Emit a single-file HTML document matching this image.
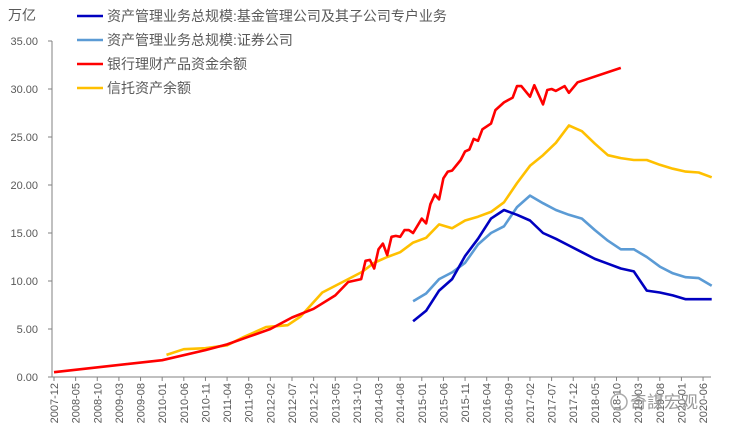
<!DOCTYPE html>
<html><head><meta charset="utf-8"><style>
html,body{margin:0;padding:0;background:#fff;}
svg{display:block;font-family:"Liberation Sans","Noto Sans CJK SC",sans-serif;}
</style></head><body>
<svg id="chart" width="729" height="429">
<text x="8" y="20" font-size="14" fill="#595959">万亿</text>
<g id="legend"></g>
<g id="axes"></g>
<g id="series"></g>
<circle cx="619" cy="402" r="8" fill="none" stroke="#aaa" stroke-width="1.5"/>
<text x="630" y="408" font-size="17" fill="#999">奇謀宏观</text>
</svg>
<script>
// months since 2007-12
const redMonths = [0,25,35,40,45,50,55,60,65,68,71,72,73,74,75,76,77,78,79,80,81,82,83,85,86,87,88,89,90,91,92,94,95,96,97,98,99,101,102,104,106,107,108,110,111,113,114,115,116,118,119,121,131];
const redValues = [0.5,1.75,2.8,3.4,4.2,5.0,6.2,7.1,8.5,9.9,10.2,12.1,12.2,11.3,13.3,13.9,12.7,14.6,14.7,14.6,15.3,15.3,15.0,16.5,16.0,18.0,19.0,18.5,20.7,21.4,21.5,22.6,23.5,23.7,24.8,24.6,25.8,26.4,27.8,28.6,29.1,30.3,30.3,29.2,30.4,28.4,29.9,30.0,29.8,30.3,29.6,30.7,32.2];
const trustMonths = [26,30,35,40,44,49,54,57,62,68,71,74,77,80,83,86,89,92,95,98,101,104,107,110,113,116,119,122,125,128,131,134,137,140,143,146,149,152];
const trustValues = [2.3,2.9,3.0,3.3,4.2,5.2,5.4,6.3,8.8,10.2,10.9,11.9,12.5,13.0,14.0,14.5,15.9,15.5,16.3,16.7,17.2,18.2,20.2,22.0,23.1,24.4,26.2,25.6,24.3,23.1,22.8,22.6,22.6,22.1,21.7,21.4,21.3,20.8];
const qMonths = [83,86,89,92,95,98,101,104,107,110,113,116,119,122,125,128,131,134,137,140,143,146,149,152];
const secValues = [7.9,8.7,10.2,10.9,11.9,13.8,15.0,15.7,17.7,18.9,18.1,17.4,16.9,16.5,15.3,14.2,13.3,13.3,12.5,11.5,10.8,10.4,10.3,9.5];
const fundValues = [5.8,6.9,9.0,10.2,12.6,14.4,16.5,17.4,16.9,16.3,15.0,14.4,13.7,13.0,12.3,11.8,11.3,11.0,9.0,8.8,8.5,8.1,8.1,8.1];
const yTicks = [0,5,10,15,20,25,30,35];
const xTickLabels = ["2007-12","2008-05","2008-10","2009-03","2009-08","2010-01","2010-06","2010-11","2011-04","2011-09","2012-02","2012-07","2012-12","2013-05","2013-10","2014-03","2014-08","2015-01","2015-06","2015-11","2016-04","2016-09","2017-02","2017-07","2017-12","2018-05","2018-10","2019-03","2019-08","2020-01","2020-06"];
const legendLabels = ["资产管理业务总规模:基金管理公司及其子公司专户业务","资产管理业务总规模:证券公司","银行理财产品资金余额","信托资产余额"];

const NS="http://www.w3.org/2000/svg";
const x0=54, pxPerMonth=4.327, y0=377, pxPerUnit=9.6;
const xS=m=>x0+m*pxPerMonth, yS=v=>y0-v*pxPerUnit;
function mk(tag,attrs,parent){const e=document.createElementNS(NS,tag);for(const k in attrs)e.setAttribute(k,attrs[k]);parent.appendChild(e);return e;}
const axes=document.getElementById('axes'), ser=document.getElementById('series'), leg=document.getElementById('legend');
let ya=mk('line',{x1:52,y1:yS(35),x2:52,y2:y0,stroke:'#808080','stroke-width':1},axes);


yTicks.forEach(v=>{
  const t=mk('line',{x1:48,x2:52,y1:yS(v),y2:yS(v),stroke:'#808080'},axes);
  
  
  const l=mk('text',{x:38,y:yS(v)+4,'text-anchor':'end','font-size':11,fill:'#595959'},axes);
  l.textContent=v.toFixed(2);
  
  
});
let xa=mk('line',{x1:52,y1:y0,x2:711,y2:y0,stroke:'#808080','stroke-width':1},axes);


xTickLabels.forEach((s,i)=>{
  const x=xS(i*5);
  const t=mk('line',{x1:x,x2:x,y1:y0,y2:y0+4,stroke:'#808080'},axes);
  
  
  const l=mk('text',{x:0,y:0,'text-anchor':'end','font-size':11,fill:'#595959',transform:`translate(${x+4},${y0+6}) rotate(-90)`},axes);
  l.textContent=s;
  
  
});
function line(ms,vs,color,name){
  const d=ms.map((m,i)=>(i?'L':'M')+xS(m).toFixed(1)+','+yS(vs[i]).toFixed(1)).join('');
  const p=mk('path',{d:d,fill:'none',stroke:color,'stroke-width':2.6,'stroke-linejoin':'round'},ser);
  
  
}
line(trustMonths,trustValues,'#FFC000','trust-assets-line');
line(redMonths,redValues,'#FF0000','bank-wmp-line');
line(qMonths,secValues,'#5B9BD5','securities-am-line');
line(qMonths,fundValues,'#0000C0','fund-am-line');
const legColors=['#0000C0','#5B9BD5','#FF0000','#FFC000'];
legendLabels.forEach((s,i)=>{
  const y=16+i*24;
  const ln=mk('line',{x1:77,x2:103,y1:y,y2:y,stroke:legColors[i],'stroke-width':2.6},leg);
  
  
  const t=mk('text',{x:107,y:y+5,'font-size':14,fill:'#595959'},leg);
  t.textContent=s;
  
  
});
</script>
</body></html>
